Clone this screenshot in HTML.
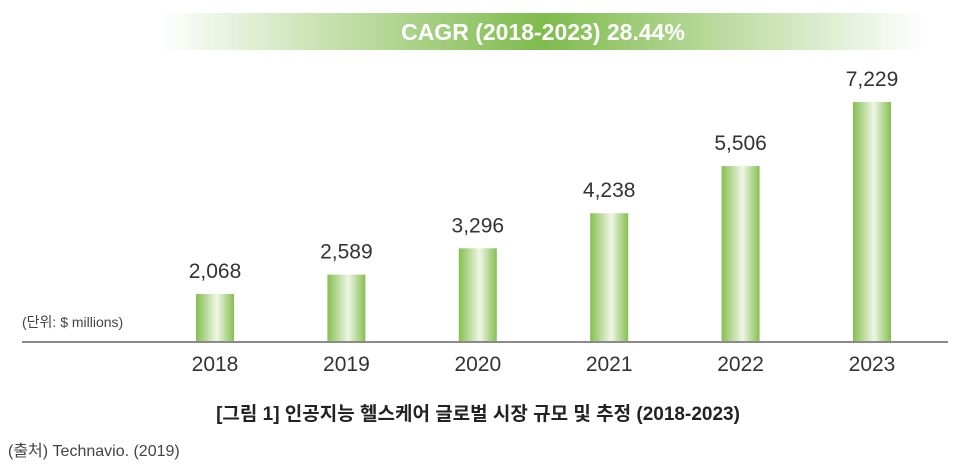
<!DOCTYPE html>
<html><head><meta charset="utf-8"><style>
body{margin:0;background:#fff;width:956px;height:468px;overflow:hidden;font-family:"Liberation Sans","Noto Sans CJK KR",sans-serif}
</style></head><body>
<svg width="956" height="468" xmlns="http://www.w3.org/2000/svg">
<defs>
<linearGradient id="ban" x1="0" x2="1" y1="0" y2="0">
<stop offset="0" stop-color="#fff"/><stop offset="0.5" stop-color="#7fbb4c"/><stop offset="1" stop-color="#fff"/></linearGradient>
<linearGradient id="bar" x1="0" x2="1" y1="0" y2="0">
<stop offset="0" stop-color="#86bf50"/><stop offset="0.55" stop-color="#eef6e6"/><stop offset="1" stop-color="#86bf50"/></linearGradient>
</defs>
<rect x="160" y="13" width="765" height="37" fill="url(#ban)"/>
<text x="543" y="40" text-anchor="middle" fill="#fff" font-size="23" font-weight="bold">CAGR (2018-2023) 28.44%</text>
<g id="bars"></g>
<line x1="22" x2="948" y1="342" y2="342" stroke="#8a8a8a" stroke-width="2"/>
<text x="22" y="327" font-size="14" fill="#444">(단위: $ millions)</text>
<text x="478" y="420" text-anchor="middle" font-size="19" font-weight="bold" fill="#222">[그림 1] 인공지능 헬스케어 글로벌 시장 규모 및 추정 (2018-2023)</text>
<text x="8" y="456" font-size="16" fill="#444">(출처) Technavio. (2019)</text>
</svg>
<script>
const categories=["2018","2019","2020","2021","2022","2023"];
const values=[2068,2589,3296,4238,5506,7229];
const labels=["2,068","2,589","3,296","4,238","5,506","7,229"];
const base=342, x0=215, step=131.4, bw=38;
const y=v=>base-(-28.9+0.0372*v);
const g=document.getElementById('bars');
const ns="http://www.w3.org/2000/svg";
categories.forEach((c,i)=>{
  const cx=x0+i*step, top=y(values[i]);
  const r=document.createElementNS(ns,'rect');
  r.setAttribute('x',cx-bw/2);r.setAttribute('y',top);r.setAttribute('width',bw);r.setAttribute('height',base-top);r.setAttribute('fill','url(#bar)');
  
  
  g.appendChild(r);
  const t=document.createElementNS(ns,'text');
  t.setAttribute('x',cx);t.setAttribute('y',top-16);t.setAttribute('text-anchor','middle');t.setAttribute('font-size','21');t.setAttribute('fill','#333');
  t.textContent=labels[i];
  
  
  g.appendChild(t);
  const yl=document.createElementNS(ns,'text');
  yl.setAttribute('x',cx);yl.setAttribute('y',371);yl.setAttribute('text-anchor','middle');yl.setAttribute('font-size','21');yl.setAttribute('fill','#333');
  yl.textContent=c;
  
  
  g.appendChild(yl);
});
</script>
</body></html>
